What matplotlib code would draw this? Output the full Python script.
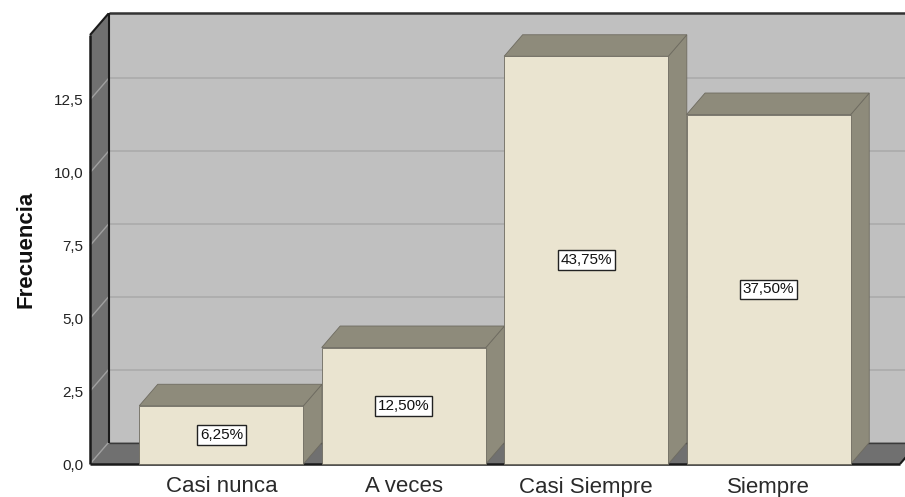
import matplotlib
matplotlib.use("Agg")
import matplotlib.pyplot as plt
from matplotlib.patches import Polygon

plt.rcParams['font.family'] = ['Liberation Sans', 'DejaVu Sans']

categories = ["Casi nunca", "A veces", "Casi Siempre", "Siempre"]
counts = [2, 4, 14, 12]
pct_labels = ["6,25%", "12,50%", "43,75%", "37,50%"]
yticks = [0.0, 2.5, 5.0, 7.5, 10.0, 12.5]
ytick_labels = ["0,0", "2,5", "5,0", "7,5", "10,0", "12,5"]
ylabel = "Frecuencia"

# styling / layout
W, H = 905, 497
fig = plt.figure(figsize=(W / 100, H / 100), dpi=100)
left_px, right_px, top_px, bot_px = 90, 900, 35, 464
ax = fig.add_axes([left_px / W, (H - bot_px) / H, (right_px - left_px) / W, (bot_px - top_px) / H])
xmin, xmax = -0.72, 3.72
ymin, ymax = 0.0, 14.73
ax.set_xlim(xmin, xmax)
ax.set_ylim(ymin, ymax)
ax.patch.set_visible(False)
for s in ax.spines.values():
    s.set_visible(False)

px_per_x = (right_px - left_px) / (xmax - xmin)
px_per_y = (bot_px - top_px) / (ymax - ymin)
ddx = 18.5 / px_per_x
ddy = 21.5 / px_per_y

back_col = "#C0C0C0"
wall_col = "#707070"
grid_back = "#ABABAB"
grid_side = "#A0A0A0"
face_col = "#EAE4D0"
dark_col = "#8E8B7B"
edge_col = "#6E6B60"


def poly(pts, fc, ec="none", lw=0.0, z=1):
    p = Polygon(pts, closed=True, facecolor=fc, edgecolor=ec, linewidth=lw,
                clip_on=False, zorder=z, joinstyle="miter")
    ax.add_patch(p)


def line(xs, ys, c, lw, z):
    ax.plot(xs, ys, color=c, lw=lw, clip_on=False, zorder=z, solid_capstyle="butt")


# back wall
poly([(xmin + ddx, ddy), (xmax + ddx, ddy), (xmax + ddx, ymax + ddy), (xmin + ddx, ymax + ddy)], back_col, z=1)
# left wall
poly([(xmin, 0), (xmin + ddx, ddy), (xmin + ddx, ymax + ddy), (xmin, ymax)], wall_col, z=1)
# floor
poly([(xmin, 0), (xmax, 0), (xmax + ddx, ddy), (xmin + ddx, ddy)], wall_col, z=1)

# gridlines
for yt in yticks:
    if yt > 0:
        line([xmin + ddx, xmax + ddx], [yt + ddy, yt + ddy], grid_back, 1.2, 2)
    line([xmin, xmin + ddx], [yt, yt + ddy], grid_side, 1.0, 2)

# frame edges
line([xmin, xmin], [0, ymax], "#1a1a1a", 1.8, 3)
line([xmin, xmin + ddx], [ymax, ymax + ddy], "#1a1a1a", 1.5, 3)
line([xmin + ddx, xmax + ddx], [ymax + ddy, ymax + ddy], "#333333", 1.8, 3)
line([xmin + ddx, xmin + ddx], [ddy, ymax + ddy], "#1a1a1a", 1.5, 3)
line([xmin, xmax], [0, 0], "#1a1a1a", 1.8, 3)
line([xmin + ddx, xmax + ddx], [ddy, ddy], "#3a3a3a", 1.0, 2)
line([xmax, xmax + ddx], [0, ddy], "#1a1a1a", 1.5, 3)

# bars
bw = 0.9
for i, v in enumerate(counts):
    x0, x1 = i - bw / 2, i + bw / 2
    # right side
    poly([(x1, 0), (x1 + ddx, ddy), (x1 + ddx, v + ddy), (x1, v)], dark_col, edge_col, 0.6, 4)
    # top
    poly([(x0, v), (x1, v), (x1 + ddx, v + ddy), (x0 + ddx, v + ddy)], dark_col, edge_col, 0.6, 4)
    # front
    poly([(x0, 0), (x1, 0), (x1, v), (x0, v)], face_col, edge_col, 0.6, 5)
    ax.text(i, v / 2, pct_labels[i], ha="center", va="center", fontsize=11, color="#111111",
            zorder=6,
            bbox=dict(boxstyle="square,pad=0.18", facecolor="white", edgecolor="#222222", linewidth=1.0))

ax.set_xticks(range(len(categories)))
ax.set_xticklabels(categories, fontsize=16, color="#2a2a2a")
ax.set_yticks(yticks)
ax.set_yticklabels(ytick_labels, fontsize=11, color="#222222")
ax.tick_params(axis="both", length=0)
ax.tick_params(axis="y", pad=5)
ax.tick_params(axis="x", pad=9)
ax.set_ylabel(ylabel, fontsize=16, fontweight="bold", color="#111111", labelpad=12)

fig.savefig("out.png", dpi=100)
